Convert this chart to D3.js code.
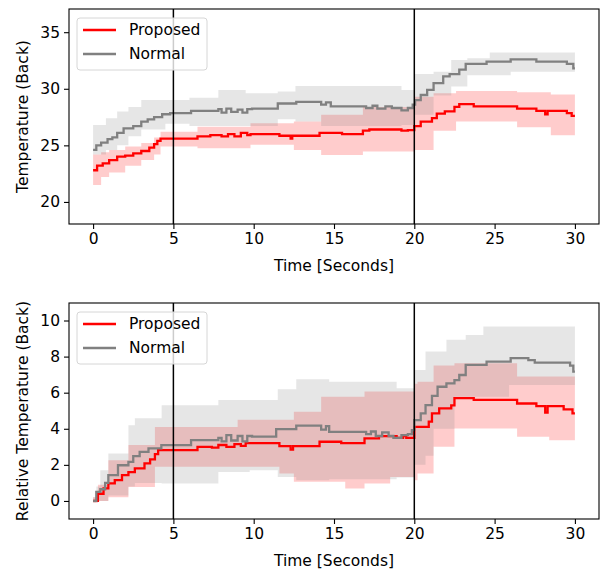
<!DOCTYPE html>
<html>
<head>
<meta charset="utf-8">
<script src="https://cdn.jsdelivr.net/npm/d3@7"></script>
<style>
  body { margin: 0; background: #fff; }
  svg { display: block; font-family: "DejaVu Sans", sans-serif; }
</style>
</head>
<body>
<div id="chart"></div>
<script>
// step series: [time, value] and bands: [time, low, high]
var absProposedMean = [[0,22.8],[0.25,23.2],[0.6,23.4],[1.0,23.7],[1.5,24.0],[2.0,24.1],[2.5,24.3],[3.0,24.5],[3.5,24.8],[3.8,25.1],[4.0,25.4],[4.2,25.6],[6.5,25.8],[7.3,25.9],[8.0,25.8],[8.4,26.0],[8.8,25.8],[9.2,26.1],[9.6,25.9],[9.8,26.0],[11.6,25.85],[12.3,25.6],[12.4,25.85],[14.1,26.1],[15.5,26.0],[16.8,26.3],[17.2,26.4],[19.2,26.3],[19.6,26.35],[20.0,26.7],[20.4,27.1],[21.1,27.4],[21.4,27.8],[21.9,28.0],[22.5,28.4],[22.8,28.65],[23.7,28.45],[26.4,28.25],[27.6,28.05],[28.15,27.75],[28.3,28.05],[29.5,27.85],[29.8,27.6],[30,27.6]];
var absProposedBand = [[0,21.5,24.2],[0.5,22.2,24.4],[1.0,22.6,24.6],[2.0,23.2,24.9],[3.0,23.7,25.2],[3.8,24.2,25.7],[4.2,24.9,26.2],[6.5,24.75,26.65],[9.8,25.05,26.95],[12.5,24.6,27.1],[14.2,24.15,27.7],[16.8,24.45,28.4],[20.0,24.6,29.3],[21.2,26.3,29.6],[22.6,27.1,29.8],[26.4,26.6,29.7],[28.5,25.9,29.5],[30,25.9,29.5]];
var absNormalMean = [[0,24.6],[0.2,25.0],[0.5,25.25],[0.9,25.55],[1.2,25.7],[1.5,26.1],[1.9,26.5],[2.5,26.7],[3.0,27.1],[3.4,27.3],[3.8,27.5],[4.3,27.75],[4.8,27.85],[6.1,28.05],[7.8,28.2],[8.0,27.9],[8.3,28.25],[8.6,27.95],[9.0,28.15],[9.3,27.9],[9.6,28.2],[9.9,28.25],[11.5,28.7],[12.65,28.85],[14.2,28.6],[14.5,28.8],[14.8,28.45],[17.0,28.3],[17.4,28.5],[17.7,28.25],[18.2,28.45],[18.6,28.3],[19.2,28.1],[19.6,28.3],[19.9,28.6],[20.05,29.0],[20.4,29.45],[20.8,29.9],[21.2,30.5],[21.8,31.1],[22.2,31.3],[22.8,31.7],[23.2,32.2],[24.5,32.4],[26.0,32.6],[27.6,32.4],[29.5,32.2],[29.9,31.8],[30,31.8]];
var absNormalBand = [[0,24.2,26.8],[0.8,24.6,27.4],[1.5,25.0,28.0],[2.2,25.8,28.4],[3.0,26.4,29.0],[4.5,26.9,29.0],[6.0,26.7,29.2],[7.8,26.7,29.9],[9.5,26.7,29.6],[11.5,27.3,29.75],[12.6,27.1,30.25],[14.2,26.7,30.25],[19.2,26.8,29.9],[20.0,27.7,31.3],[21.2,29.4,31.5],[22.3,30.2,32.55],[23.3,31.2,32.7],[24.7,31.2,33.2],[26.0,31.5,33.2],[30,31.5,33.2]];

var relProposedMean = [[0,0],[0.3,0.4],[0.65,0.7],[0.95,0.97],[1.35,1.15],[1.8,1.43],[2.2,1.6],[2.6,1.8],[3.2,2.08],[3.55,2.3],[3.85,2.6],[4.05,2.82],[6.5,3.0],[7.4,2.95],[7.8,3.1],[8.3,3.0],[8.8,3.15],[9.2,3.05],[9.5,3.2],[11.6,3.04],[12.3,2.85],[12.45,3.04],[14.1,3.28],[15.45,3.2],[16.9,3.47],[17.8,3.59],[18.9,3.5],[19.3,3.6],[19.5,3.5],[20.0,4.1],[20.9,4.4],[21.1,4.85],[21.55,5.13],[22.3,5.3],[22.5,5.7],[23.7,5.6],[26.4,5.4],[27.6,5.25],[28.15,4.9],[28.3,5.25],[29.3,5.08],[29.85,4.85],[30,4.85]];
var relProposedBand = [[0,-0.1,0.2],[0.3,0.0,0.9],[0.95,0.2,2.26],[2.2,0.78,3.1],[3.85,1.9,4.1],[9.0,1.9,4.5],[11.6,1.52,4.5],[12.5,1.06,4.94],[14.2,1.06,5.78],[15.7,0.69,5.78],[16.9,0.97,6.06],[18.5,1.33,6.06],[20.0,1.15,6.5],[20.2,1.52,6.6],[21.2,3.0,7.5],[22.5,4.02,7.63],[26.4,3.56,6.9],[28.4,3.37,6.9],[30,3.37,6.9]];
var relNormalMean = [[0,0],[0.2,0.5],[0.45,0.65],[0.75,1.0],[0.95,1.43],[1.55,1.98],[2.2,2.17],[2.5,2.48],[2.9,2.72],[3.45,2.91],[4.25,3.09],[6.1,3.37],[7.8,3.5],[8.0,3.3],[8.3,3.65],[8.6,3.35],[9.0,3.6],[9.3,3.3],[9.6,3.6],[9.9,3.56],[11.4,3.98],[12.65,4.17],[14.2,3.95],[14.5,4.15],[14.7,3.83],[17.0,3.7],[17.3,3.85],[17.6,3.6],[18.0,3.8],[18.4,3.6],[18.7,3.5],[19.2,3.65],[19.6,3.7],[19.85,3.93],[20.0,4.48],[20.4,4.85],[20.7,5.31],[21.1,5.82],[21.45,6.33],[22.0,6.52],[22.5,6.7],[22.8,6.98],[23.2,7.54],[24.5,7.72],[26.0,7.91],[27.1,7.8],[27.5,7.67],[29.7,7.5],[29.9,7.17],[30,7.17]];
var relNormalBand = [[0,-0.1,0.2],[0.2,0.0,0.8],[0.45,0.0,1.7],[0.95,0.3,2.63],[2.2,0.8,4.2],[2.6,1.0,4.58],[4.27,0.97,5.3],[7.8,1.6,5.6],[9.75,1.7,5.6],[11.5,1.33,6.19],[12.65,1.15,6.74],[14.7,1.2,6.61],[18.9,1.3,6.24],[20.0,2.0,7.26],[20.7,2.5,8.28],[21.2,4.0,8.28],[22.0,4.0,8.93],[22.5,5.78,8.93],[23.2,5.78,9.2],[24.3,5.78,9.67],[25.9,6.43,9.67],[30,6.43,9.67]];

var xTicks = [0, 5, 10, 15, 20, 25, 30];
var absTicks = [20, 25, 30, 35];
var relTicks = [0, 2, 4, 6, 8, 10];
var markerTimes = [5, 20];
var seriesNames = ["Proposed", "Normal"];
var seriesColors = ["#ff0000", "#808080"];

var W = 602, H = 569;
var FS = 15.5;
var svg = d3.select("#chart").append("svg").attr("width", W).attr("height", H);

function drawPanel(opts) {
  var x = d3.scaleLinear().domain([-1.5, 31.5]).range([opts.left, opts.right]);
  var y = d3.scaleLinear().domain(opts.yDomain).range([opts.bottom, opts.top]);
  var g = svg.append("g");

  var clipId = "clip" + opts.top;
  g.append("clipPath").attr("id", clipId).append("rect")
    .attr("x", opts.left).attr("y", opts.top)
    .attr("width", opts.right - opts.left).attr("height", opts.bottom - opts.top);
  var plot = g.append("g").attr("clip-path", "url(#" + clipId + ")");

  var area = d3.area().curve(d3.curveStepAfter)
    .x(function(d) { return x(d[0]); })
    .y0(function(d) { return y(d[1]); })
    .y1(function(d) { return y(d[2]); });
  var line = d3.line().curve(d3.curveStepAfter)
    .x(function(d) { return x(d[0]); })
    .y(function(d) { return y(d[1]); });

  // bands
  opts.bands.forEach(function(b, i) {
    plot.append("path").datum(b).attr("d", area)
      .attr("fill", seriesColors[i]).attr("fill-opacity", 0.2);
  });
  // mean lines
  opts.means.forEach(function(m, i) {
    plot.append("path").datum(m).attr("d", line)
      .attr("fill", "none").attr("stroke", seriesColors[i])
      .attr("stroke-width", 2.3).attr("stroke-linejoin", "miter");
  });

  // phase markers
  plot.selectAll(".marker").data(markerTimes).enter().append("line")
    .attr("x1", function(d) { return x(d); }).attr("x2", function(d) { return x(d); })
    .attr("y1", opts.top).attr("y2", opts.bottom)
    .attr("stroke", "#000").attr("stroke-width", 1.5);

  // axes
  var xAxis = g.append("g").attr("transform", "translate(0," + opts.bottom + ")")
    .call(d3.axisBottom(x).tickValues(xTicks).tickSize(5).tickPadding(4).tickSizeOuter(0));
  var yAxis = g.append("g").attr("transform", "translate(" + opts.left + ",0)")
    .call(d3.axisLeft(y).tickValues(opts.yTicks).tickSize(5).tickPadding(4).tickSizeOuter(0));
  [xAxis, yAxis].forEach(function(a) {
    a.select(".domain").remove();
    a.selectAll("line").attr("stroke", "#000").attr("stroke-width", 1.1);
    a.selectAll("text").attr("font-size", FS).attr("fill", "#000")
      .attr("font-family", "DejaVu Sans, sans-serif");
  });

  g.append("rect").attr("x", opts.left).attr("y", opts.top)
    .attr("width", opts.right - opts.left).attr("height", opts.bottom - opts.top)
    .attr("fill", "none").attr("stroke", "#000").attr("stroke-width", 1.1);

  g.append("text").attr("x", (opts.left + opts.right) / 2).attr("y", opts.bottom + 47)
    .attr("text-anchor", "middle").attr("font-size", FS).text("Time [Seconds]");
  g.append("text")
    .attr("transform", "translate(23," + (opts.top + opts.bottom) / 2 + ") rotate(-90)")
    .attr("text-anchor", "middle").attr("dominant-baseline", "central")
    .attr("font-size", FS).text(opts.yLabel);

  // legend
  var lx = opts.left + 8, ly = opts.top + 9;
  var leg = g.append("g");
  leg.append("rect").attr("x", lx).attr("y", ly).attr("width", 130).attr("height", 52)
    .attr("rx", 3).attr("fill", "#fff").attr("fill-opacity", 0.8)
    .attr("stroke", "#d6d6d6").attr("stroke-width", 1);
  seriesNames.forEach(function(name, i) {
    var yy = ly + 12 + i * 24;
    leg.append("line").attr("x1", lx + 6).attr("x2", lx + 39).attr("y1", yy).attr("y2", yy)
      .attr("stroke", seriesColors[i]).attr("stroke-width", 2.3);
    leg.append("text").attr("x", lx + 52).attr("y", yy)
      .attr("dominant-baseline", "central").attr("font-size", FS).text(name);
  });
}

drawPanel({
  left: 69, right: 599, top: 9, bottom: 224,
  yDomain: [18.05, 37.05], yTicks: absTicks, yLabel: "Temperature (Back)",
  means: [absProposedMean, absNormalMean], bands: [absProposedBand, absNormalBand]
});
drawPanel({
  left: 69, right: 599, top: 303, bottom: 519,
  yDomain: [-1.0, 10.97], yTicks: relTicks, yLabel: "Relative Temperature (Back)",
  means: [relProposedMean, relNormalMean], bands: [relProposedBand, relNormalBand]
});
</script>
</body>
</html>
